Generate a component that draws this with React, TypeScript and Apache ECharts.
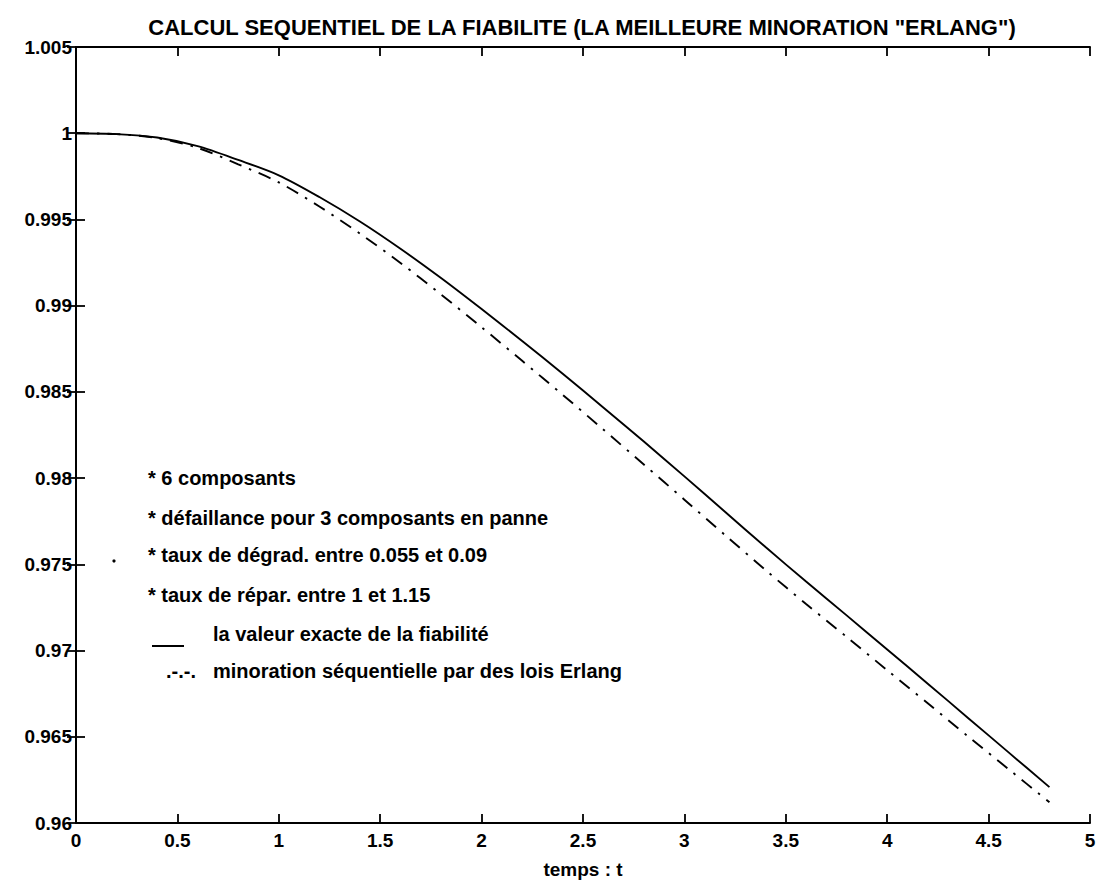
import React, { useEffect, useRef } from "react";
import * as echarts from "echarts";

const titleText = 'CALCUL SEQUENTIEL DE LA FIABILITE (LA MEILLEURE MINORATION "ERLANG")';
const xName = "temps : t";
const tValues = [0, 0.2, 0.4, 0.6, 0.8, 1.0, 1.2, 1.4, 1.6, 1.8, 2.0, 2.2, 2.4, 2.6, 2.8, 3.0, 3.2, 3.4, 3.6, 3.8, 4.0, 4.2, 4.4, 4.6, 4.8];
const exactValues = [1.0, 0.99995, 0.99975, 0.99925, 0.99845, 0.99756, 0.9963, 0.99488, 0.9933, 0.9916, 0.9898, 0.98795, 0.98605, 0.9841, 0.98212, 0.9801, 0.97805, 0.976, 0.974, 0.97204, 0.97006, 0.96808, 0.96608, 0.96408, 0.96208];
const erlangValues = [1.0, 0.99995, 0.99972, 0.99915, 0.9982, 0.99715, 0.99575, 0.99418, 0.99248, 0.99065, 0.98875, 0.9868, 0.98483, 0.98282, 0.98079, 0.97875, 0.9767, 0.97467, 0.9727, 0.97079, 0.96886, 0.96694, 0.96501, 0.96311, 0.9612];
const notes = [
  "* 6 composants",
  "* défaillance pour 3 composants en panne",
  "* taux de dégrad. entre 0.055 et 0.09",
  "* taux de répar. entre 1 et 1.15",
];
const legendLabels = ["la valeur exacte de la fiabilité", "minoration séquentielle par des lois Erlang"];

const FONT = "'Liberation Sans', Arial, Helvetica, sans-serif";

export default function App() {
  const ref = useRef<HTMLDivElement>(null);
  useEffect(() => {
    if (!ref.current) return;
    const chart = echarts.init(ref.current, undefined, { renderer: "svg" });
    const exact = tValues.map((t, i) => [t, exactValues[i]]);
    const erlang = tValues.map((t, i) => [t, erlangValues[i]]);
    const axisLine = { show: true, lineStyle: { color: "#000", width: 2 } };
    const tickStyle = { show: true, inside: true, length: 9, lineStyle: { color: "#000", width: 1.8 } };
    const labelStyle = { color: "#000", fontSize: 19, fontWeight: "bold", fontFamily: FONT };
    const noteFont = `bold 20px ${FONT}`;
    const noteY = [479, 519, 556, 596];
    const graphics: any[] = notes.map((n, i) => ({
      type: "text",
      left: 148,
      top: noteY[i] - 11,
      style: { text: n, fill: "#000", font: noteFont },
    }));
    graphics.push(
      { type: "line", shape: { x1: 152, y1: 646, x2: 184, y2: 646 }, style: { stroke: "#000", lineWidth: 2 } },
      { type: "text", left: 213, top: 624, style: { text: legendLabels[0], fill: "#000", font: noteFont } },
      { type: "text", left: 166, top: 661, style: { text: ".-.-.", fill: "#000", font: noteFont } },
      { type: "text", left: 213, top: 661, style: { text: legendLabels[1], fill: "#000", font: noteFont } },
      { type: "circle", shape: { cx: 114, cy: 561, r: 1.6 }, style: { fill: "#000" } }
    );
    chart.setOption({
      animation: false,
      backgroundColor: "#fff",
      title: {
        text: titleText,
        left: 577,
        textAlign: "center",
        top: 11,
        textStyle: { color: "#000", fontSize: 22, fontWeight: "bold", fontFamily: FONT },
      },
      grid: { left: 76, right: 9, top: 47, bottom: 58, containLabel: false },
      xAxis: [
        {
          type: "value",
          min: 0,
          max: 5,
          interval: 0.5,
          name: xName,
          nameLocation: "middle",
          nameGap: 37,
          nameTextStyle: { color: "#000", fontSize: 19, fontWeight: "bold", fontFamily: FONT },
          axisLine,
          axisTick: tickStyle,
          axisLabel: { ...labelStyle, margin: 8 },
          splitLine: { show: false },
        },
        {
          type: "value",
          position: "top",
          min: 0,
          max: 5,
          interval: 0.5,
          axisLine,
          axisTick: tickStyle,
          axisLabel: { show: false },
          splitLine: { show: false },
        },
      ],
      yAxis: [
        {
          type: "value",
          min: 0.96,
          max: 1.005,
          interval: 0.005,
          axisLine,
          axisTick: tickStyle,
          axisLabel: { ...labelStyle, margin: 4, formatter: (v: number) => String(parseFloat(v.toFixed(3))) },
          splitLine: { show: false },
        },
        {
          type: "value",
          position: "right",
          min: 0.96,
          max: 1.005,
          interval: 0.005,
          axisLine,
          axisTick: tickStyle,
          axisLabel: { show: false },
          splitLine: { show: false },
        },
      ],
      series: [
        {
          type: "line",
          data: exact,
          smooth: 0.3,
          showSymbol: false,
          lineStyle: { color: "#000", width: 1.9 },
        },
        {
          type: "line",
          data: erlang,
          smooth: 0.3,
          showSymbol: false,
          lineStyle: { color: "#000", width: 1.9, type: [13, 8, 2.5, 8] },
        },
      ],
      graphic: graphics,
    });
    return () => chart.dispose();
  }, []);
  return <div ref={ref} style={{ position: "fixed", left: 0, top: 0, width: 1099, height: 884, background: "#fff" }} />;
}
